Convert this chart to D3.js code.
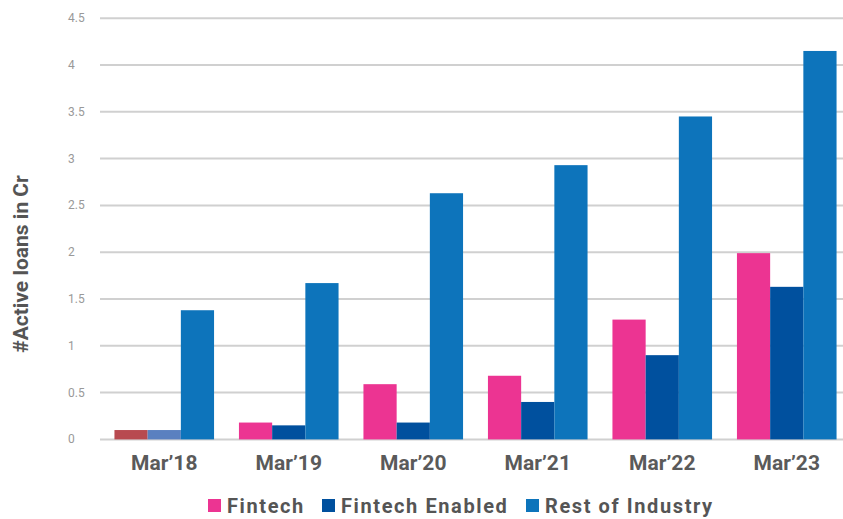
<!DOCTYPE html>
<html><head><meta charset="utf-8">
<script src="https://cdn.jsdelivr.net/npm/d3@7"></script>
<style>body{margin:0;background:#fff}svg{display:block}</style>
</head><body>
<svg id="c" width="843" height="519"></svg>
<script>
const categories = ["Mar’18","Mar’19","Mar’20","Mar’21","Mar’22","Mar’23"];
const seriesNames = ["Fintech","Fintech Enabled","Rest of Industry"];
const fintech = [0.1, 0.18, 0.59, 0.68, 1.28, 1.99];
const fintechEnabled = [0.1, 0.15, 0.18, 0.40, 0.90, 1.63];
const restOfIndustry = [1.38, 1.67, 2.63, 2.93, 3.45, 4.15];
const yTicks = [0,0.5,1,1.5,2,2.5,3,3.5,4,4.5];
const colors = ["#ec3492","#00509e","#0d74bb"];
const firstGroupColors = ["#b84a50","#5a80c0","#0d74bb"];

const svg = d3.select("#c");
const y = d3.scaleLinear().domain([0,4.5]).range([439.4,18.2]);
const x0 = d3.scaleBand().domain(categories).range([102,849]).paddingInner(0.2).paddingOuter(0.1);
const x1 = d3.scaleBand().domain(seriesNames).range([0,x0.bandwidth()]);
const series = [fintech, fintechEnabled, restOfIndustry];

// grid
svg.append("g").selectAll("line").data(yTicks).join("line")
  .attr("x1",100).attr("x2",843)
  .attr("y1",d=>y(d)).attr("y2",d=>y(d))
  .attr("stroke","#d0d0d0").attr("stroke-width",2);
svg.append("g").selectAll("text").data(yTicks).join("text")
  .attr("x",68).attr("y",d=>y(d)+4)
  .attr("font-family","Roboto, sans-serif").attr("font-size",12)
  .attr("fill","#999").text(d=>d);

// bars
const rows = [];
categories.forEach((c,i)=>seriesNames.forEach((s,j)=>rows.push({c,i,s,j,v:series[j][i]})));
svg.append("g").selectAll("rect").data(rows).join("rect")
  .attr("x",d=>x0(d.c)+x1(d.s))
  .attr("y",d=>y(d.v))
  .attr("width",x1.bandwidth())
  .attr("height",d=>y(0)-y(d.v))
  .attr("fill",d=>d.i===0?firstGroupColors[d.j]:colors[d.j]);

// x labels
svg.append("g").selectAll("text").data(categories).join("text")
  .attr("x",d=>x0(d)+x0.bandwidth()/2).attr("y",470)
  .attr("text-anchor","middle")
  .attr("font-family","Roboto, sans-serif").attr("font-weight","bold").attr("font-size",21)
  .attr("fill","#5a5a5a").text(d=>d);

// y title
svg.append("text")
  .attr("transform","translate(28,264) rotate(-90)")
  .attr("text-anchor","middle")
  .attr("font-family","Roboto, sans-serif").attr("font-weight","bold").attr("font-size",21)
  .attr("fill","#555").text("#Active loans in Cr");

// legend
const legX = [208,322,526];
const lg = svg.append("g").selectAll("g").data(seriesNames).join("g")
  .attr("transform",(d,i)=>`translate(${legX[i]},499)`);
lg.append("rect").attr("width",13).attr("height",13).attr("fill",(d,i)=>colors[i]);
lg.append("text").attr("x",19).attr("y",14)
  .attr("font-family","Roboto, sans-serif").attr("font-weight","bold").attr("font-size",20)
  .attr("letter-spacing",1.6)
  .attr("fill","#555").text(d=>d);
</script>
</body></html>
